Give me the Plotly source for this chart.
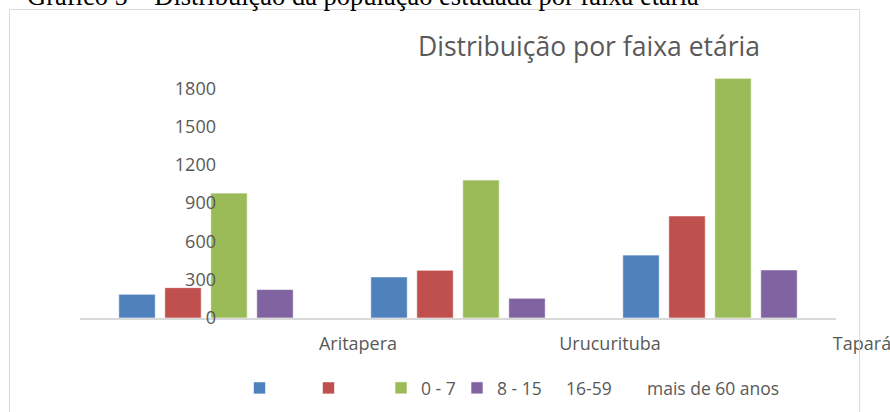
import plotly.graph_objects as go

# ---- data ----
categories = ["Aritapera", "Urucurituba", "Tapará"]
series_labels = ["", "", "0 - 7", "8 - 15"]          # legend text as rendered
extra_labels = ["16-59", "mais de 60 anos"]          # legend texts without a marker
blue_vals = [186, 322, 493]
red_vals = [238, 374, 800]
green_vals = [979, 1081, 1878]
purple_vals = [223, 155, 377]
y_ticks = [0, 300, 600, 900, 1200, 1500, 1800]

colors = ["#4F81BD", "#C0504D", "#9BBB59", "#8064A2"]
values = [blue_vals, red_vals, green_vals, purple_vals]

W, H = 890, 412
L, R, T, B = 80, 54, 60, 94
PW, PH = W - L - R, H - T - B


def px_x(px):
    return (px - L) / PW


def px_y(py):
    return (H - B - py) / PH


FONT = "Open Sans, Liberation Sans, sans-serif"
GRAY = "#595959"

fig = go.Figure()
legend_ids = ["legend", "legend2", "legend3", "legend4"]
for name, vals, col, lg in zip(series_labels, values, colors, legend_ids):
    fig.add_trace(go.Bar(
        x=categories, y=vals, name=name, marker_color=col,
        marker_line=dict(color="rgba(255,255,255,0.6)", width=1),
        legend=lg,
    ))
for name, lg in zip(extra_labels, ["legend5", "legend6"]):
    fig.add_trace(go.Scatter(
        x=[None], y=[None], mode="markers", name=name,
        marker=dict(size=0, color="rgba(0,0,0,0)", line=dict(width=0)),
        legend=lg,
    ))

# legend item start positions (px) – symbol centre is +20, text starts at +40
legend_x_px = [239.5, 308.5, 381, 457, 526, 607]
legend_y = px_y(388)
legends = {}
for lid, xp in zip(["legend", "legend2", "legend3", "legend4", "legend5", "legend6"], legend_x_px):
    legends[lid] = dict(
        x=px_x(xp), xanchor="left", y=legend_y, yanchor="middle",
        orientation="h", bgcolor="rgba(0,0,0,0)", borderwidth=0,
        font=dict(family=FONT, size=17.5, color=GRAY),
    )

fig.update_layout(
    width=W, height=H,
    margin=dict(l=L, r=R, t=T, b=B, autoexpand=False),
    paper_bgcolor="white", plot_bgcolor="white",
    barmode="group", bargap=0.27, bargroupgap=0.207,
    showlegend=True,
    xaxis=dict(
        type="category", categoryorder="array", categoryarray=categories,
        showgrid=False, zeroline=False, showline=True,
        linecolor="#D9D9D9", linewidth=1.5, ticks="",
        tickfont=dict(family=FONT, size=18, color=GRAY),
        ticklabelshift=152, ticklabelstandoff=9,
    ),
    yaxis=dict(
        anchor="free", position=px_x(216),
        range=[0, 2022], tickvals=y_ticks,
        showgrid=False, zeroline=False, showline=False, ticks="",
        tickfont=dict(family=FONT, size=18, color=GRAY),
    ),
    title=dict(
        text="Distribuição por faixa etária",
        x=px_x(589), xref="paper", xanchor="center",
        y=1 - 47 / H, yanchor="middle",
        font=dict(family=FONT, size=26.5, color=GRAY),
    ),
    shapes=[dict(
        type="rect", xref="paper", yref="paper",
        x0=px_x(9.5), x1=px_x(859.5), y0=px_y(440), y1=px_y(9.5),
        line=dict(color="#D9D9D9", width=1), layer="above",
    )],
    annotations=[dict(
        text="Gráfico 5 – Distribuição da população estudada por faixa etária",
        xref="paper", yref="paper", x=px_x(25), xanchor="left",
        y=px_y(-3.8), yanchor="middle", showarrow=False,
        font=dict(family="Liberation Serif, Times New Roman, serif", size=26.5, color="black"),
    )],
    **legends,
)

fig.write_html(
    "out.html",
    config={"displayModeBar": False},
    post_script="document.body.style.margin='0';document.body.style.overflow='hidden';",
)
